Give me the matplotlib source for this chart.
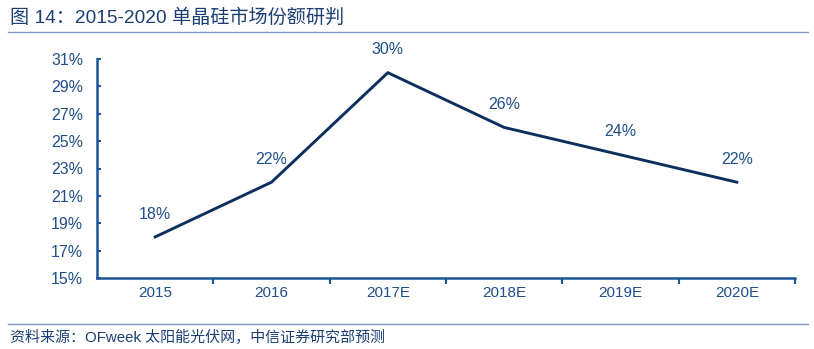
import matplotlib.pyplot as plt
from matplotlib.lines import Line2D
from matplotlib.ticker import FixedLocator

plt.rcParams['font.family'] = ['Liberation Sans', 'Noto Sans CJK SC', 'DejaVu Sans']

years = ['2015', '2016', '2017E', '2018E', '2019E', '2020E']
share = [18, 22, 30, 26, 24, 22]
yticks = [15, 17, 19, 21, 23, 25, 27, 29, 31]

title = '图 14：2015-2020 单晶硅市场份额研判'
source = '资料来源：OFweek 太阳能光伏网，中信证券研究部预测'

line_color = '#0c2f5e'
axis_color = '#1b5596'
label_color = '#1f4e8a'
rule_color = '#7f9cc0'

fig = plt.figure(figsize=(8.14, 3.49), dpi=100)
ax = fig.add_axes([97 / 814, 1 - 278 / 349, 698 / 814, 219 / 349])

x = list(range(len(years)))
ax.plot(x, share, color=line_color, lw=2.1, solid_joinstyle='miter')
for xi, v in zip(x, share):
    ax.annotate(f'{v}%', (xi, v), xytext=(0, 16.5), textcoords='offset points',
                ha='center', va='center', fontsize=11.5, color=label_color)

ax.set_xlim(-0.5, len(years) - 0.5)
ax.set_ylim(15, 31)
ax.set_yticks(yticks)
ax.set_yticklabels([f'{t}%' for t in yticks])
ax.set_xticks(x)
ax.set_xticklabels(years)
ax.xaxis.set_minor_locator(FixedLocator([i + 0.5 for i in range(len(years))]))
ax.tick_params(axis='x', which='major', length=0, pad=6, labelsize=11, labelcolor=label_color)
ax.tick_params(axis='x', which='minor', length=4, width=1.5, direction='out', color=axis_color)
ax.tick_params(axis='y', length=3, width=1.5, direction='in', color=axis_color, pad=10,
               labelsize=11.5, labelcolor=label_color)

for side in ['top', 'right']:
    ax.spines[side].set_visible(False)
for side in ['left', 'bottom']:
    ax.spines[side].set_color(axis_color)
    ax.spines[side].set_linewidth(1.8)

fig.text(10 / 814, 1 - 18 / 349, title, fontsize=13.8, color='#1c3f73', va='center', ha='left')
fig.add_artist(Line2D([8 / 814, 808 / 814], [1 - 32 / 349] * 2, color=rule_color, lw=1))
fig.add_artist(Line2D([8 / 814, 808 / 814], [1 - 324 / 349] * 2, color=rule_color, lw=1))
fig.text(10 / 814, 1 - 337 / 349, source, fontsize=10.8, color='#1c3f73', va='center', ha='left')

fig.savefig('out.png', dpi=100)
